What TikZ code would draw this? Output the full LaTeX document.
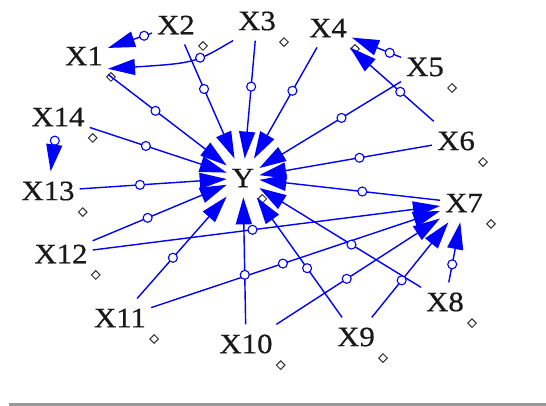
\documentclass[tikz,border=0pt]{standalone}
\usepackage{fontspec}
\newfontfamily\lblfont[FakeStretch=1.1,FakeBold=0.6]{Liberation Serif}
\usetikzlibrary{arrows.meta,shapes.geometric}

\begin{document}
\begin{tikzpicture}[x=1pt,y=-1pt,
  var/.style={inner xsep=5pt,inner ysep=10pt,text=black!90,
    font=\lblfont\fontsize{28}{30}\selectfont},
  edge/.style={draw=blue,line width=1.4pt,-{Triangle[length=27pt,width=16pt]}},
  dot/.style={circle,draw=blue,fill=white,line width=1.1pt,inner sep=0pt,minimum size=9pt},
  tag/.style={diamond,draw=black!80,fill=white,line width=1pt,inner sep=0pt,minimum size=9pt}]
\useasboundingbox (0,0) rectangle (546,406);

\node[var] (X1) at (84,56) {X1};
\node[var] (X2) at (176,25) {X2};
\node[var] (X3) at (257,21) {X3};
\node[var] (X4) at (328,28) {X4};
\node[var] (X5) at (425,67) {X5};
\node[var] (X6) at (456,141) {X6};
\node[var] (X7) at (464,203) {X7};
\node[var] (X8) at (445,302) {X8};
\node[var] (X9) at (356,337) {X9};
\node[var] (X10) at (246,344) {X10};
\node[var] (X11) at (120,318) {X11};
\node[var] (X12) at (61,254) {X12};
\node[var] (X13) at (48,191) {X13};
\node[var] (X14) at (58,117) {X14};
\node[var] (Y) at (243,178) {Y};

\foreach \v in {X1,X2,X3,X4,X5,X6,X7,X8,X9,X10,X11,X12,X13,X14,Y}
  \node[tag] (t\v) at ([shift={(3pt,-1.5pt)}]\v.south east) {};

\draw[edge] (X2) -- coordinate[pos=.18] (m1) (X1);
\draw[edge] (X3.south west) .. controls (195,63) .. coordinate[pos=.37] (m2) (X1.-28);
\draw[edge] (X1) -- coordinate[pos=.4] (m3) (Y);
\draw[edge] (X2) -- coordinate[pos=.39] (m4) (Y);
\draw[edge] (X3) -- coordinate[pos=.39] (m5) (Y);
\draw[edge] (X4) -- coordinate[pos=.39] (m6) (Y);
\draw[edge] (X5) -- coordinate[pos=.23] (m7) (X4);
\draw[edge] (X6) -- coordinate[pos=.4] (m8) (X4);
\draw[edge] (X5) -- coordinate[pos=.42] (m9) (Y);
\draw[edge] (X6) -- coordinate[pos=.42] (m10) (Y);
\draw[edge] (X7) -- coordinate[pos=.43] (m11) (Y);
\draw[edge] (X8) -- coordinate[pos=.43] (m12) (Y);
\draw[edge] (X9) -- coordinate[pos=.41] (m13) (Y);
\draw[edge] (X10) -- coordinate[pos=.39] (m14) (Y);
\draw[edge] (X11) -- coordinate[pos=.4] (m15) (Y);
\draw[edge] (X12) -- coordinate[pos=.41] (m16) (Y);
\draw[edge] (X13) -- coordinate[pos=.41] (m17) (Y);
\draw[edge] (X14) -- coordinate[pos=.41] (m18) (Y);
\draw[edge] (X14) -- coordinate[pos=.12] (m19) (X13);
\draw[edge] (X8) -- coordinate[pos=.3] (m20) (X7);
\draw[edge] (X9) -- coordinate[pos=.39] (m21) (X7);
\draw[edge] (X10) -- coordinate[pos=.43] (m22) (X7);
\draw[edge] (X11) -- coordinate[pos=.456] (m23) (X7);
\draw[edge] (X12) -- coordinate[pos=.46] (m24) (X7);

\foreach \m in {1,...,24}
  \node[dot] (o\m) at (m\m) {};

\fill[gray!80] (9,403) rectangle (546,405.5);
\end{tikzpicture}
\end{document}
